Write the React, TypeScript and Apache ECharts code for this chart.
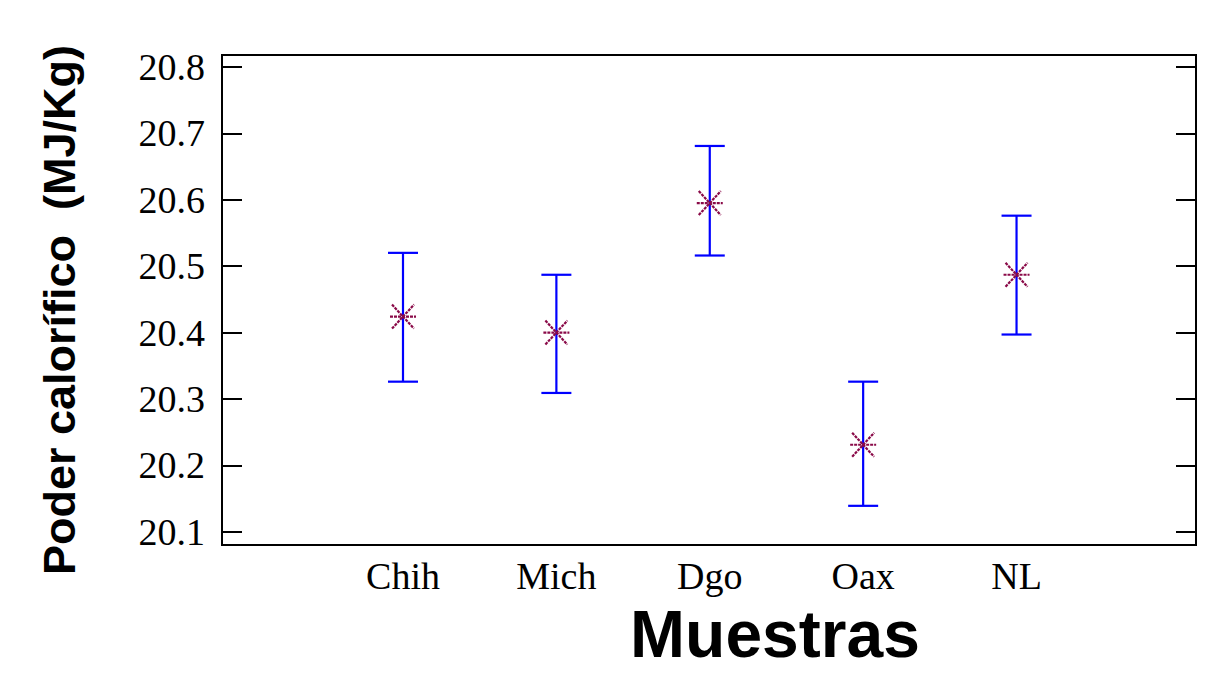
import React, { useEffect, useRef } from "react";
import * as echarts from "echarts";

const categories = ["Chih", "Mich", "Dgo", "Oax", "NL"];
const means = [20.424, 20.4, 20.595, 20.231, 20.487];
const lowerLimits = [20.326, 20.309, 20.516, 20.139, 20.397];
const upperLimits = [20.52, 20.487, 20.681, 20.326, 20.576];
const yTicks = [20.1, 20.2, 20.3, 20.4, 20.5, 20.6, 20.7, 20.8];
const xPositions = [0, 1, 2, 3, 4];

const yTitle = "Poder calorífico  (MJ/Kg)";
const xTitle = "Muestras";

export default function App() {
  const ref = useRef<HTMLDivElement>(null);

  useEffect(() => {
    document.body.style.margin = "0";
    const chart = echarts.init(ref.current!, undefined, { renderer: "svg" });

    const data = categories.map((c, i) => [xPositions[i], means[i], lowerLimits[i], upperLimits[i]]);

    const renderItem = (params: any, api: any) => {
      const x = api.value(0);
      const m = api.coord([x, api.value(1)]);
      const lo = api.coord([x, api.value(2)]);
      const hi = api.coord([x, api.value(3)]);
      const cap = 15;
      const blue = { stroke: "#0000ff", lineWidth: 2.2, fill: "none" };
      const star = { stroke: "#8a0a48", lineWidth: 2.2, fill: "none", lineDash: [3, 1] };
      const ax = 13;
      const ay = 12;
      return {
        type: "group",
        children: [
          { type: "line", shape: { x1: lo[0], y1: lo[1], x2: hi[0], y2: hi[1] }, style: blue },
          { type: "line", shape: { x1: hi[0] - cap, y1: hi[1], x2: hi[0] + cap, y2: hi[1] }, style: blue },
          { type: "line", shape: { x1: lo[0] - cap, y1: lo[1], x2: lo[0] + cap, y2: lo[1] }, style: blue },
          { type: "line", shape: { x1: m[0] - ax, y1: m[1], x2: m[0] + ax, y2: m[1] }, style: star },
          { type: "line", shape: { x1: m[0] - ax + 2, y1: m[1] - ay, x2: m[0] + ax - 2, y2: m[1] + ay }, style: star },
          { type: "line", shape: { x1: m[0] - ax + 2, y1: m[1] + ay, x2: m[0] + ax - 2, y2: m[1] - ay }, style: star },
        ],
      };
    };

    const yMin = 20.08;
    const yMax = 20.818;

    chart.setOption({
      animation: false,
      backgroundColor: "#ffffff",
      grid: {
        left: 222,
        right: 32,
        top: 55,
        bottom: 129,
        outerBoundsMode: "none",
        containLabel: false,
        show: true,
        borderColor: "#000",
        borderWidth: 2,
        backgroundColor: "transparent",
      },
      xAxis: {
        type: "value",
        min: -1.18,
        max: 5.17,
        name: xTitle,
        nameLocation: "middle",
        nameGap: 56,
        nameTextStyle: {
          fontFamily: "Liberation Sans",
          fontWeight: "bold",
          fontSize: 66,
          lineHeight: 66,
          color: "#000",
          padding: [0, 0, 0, 132],
        },
        splitLine: { show: false },
        axisTick: { show: false },
        axisLine: { show: true, onZero: false, lineStyle: { color: "#000", width: 2 } },
        axisLabel: {
          customValues: xPositions,
          formatter: (v: number) => categories[Math.round(v)],
          fontFamily: "Liberation Serif",
          fontSize: 38,
          color: "#000",
          margin: 12,
        },
      },
      yAxis: [
        {
          type: "value",
          min: yMin,
          max: yMax,
          position: "left",
          name: yTitle,
          nameLocation: "middle",
          nameRotate: 90,
          nameGap: 140,
          nameTextStyle: {
            fontFamily: "Liberation Sans",
            fontWeight: "bold",
            fontSize: 45,
            color: "#000",
            padding: [0, 20, 0, 0],
          },
          splitLine: { show: false },
          axisLine: { show: true, onZero: false, lineStyle: { color: "#000", width: 2 } },
          axisTick: {
            show: true,
            inside: true,
            length: 20,
            customValues: yTicks,
            lineStyle: { color: "#000", width: 2 },
          },
          axisLabel: {
            customValues: yTicks,
            formatter: (v: number) => v.toFixed(1),
            fontFamily: "Liberation Serif",
            fontSize: 38,
            color: "#000",
            margin: 17,
          },
        },
        {
          type: "value",
          min: yMin,
          max: yMax,
          position: "right",
          splitLine: { show: false },
          axisLine: { show: true, onZero: false, lineStyle: { color: "#000", width: 2 } },
          axisTick: {
            show: true,
            inside: true,
            length: 20,
            customValues: yTicks,
            lineStyle: { color: "#000", width: 2 },
          },
          axisLabel: { show: false },
        },
      ],
      series: [
        {
          type: "custom",
          renderItem,
          data,
          encode: { x: 0, y: [1, 2, 3] },
          clip: false,
        },
      ],
    });

    return () => chart.dispose();
  }, []);

  return <div ref={ref} style={{ width: 1228, height: 674 }} />;
}
